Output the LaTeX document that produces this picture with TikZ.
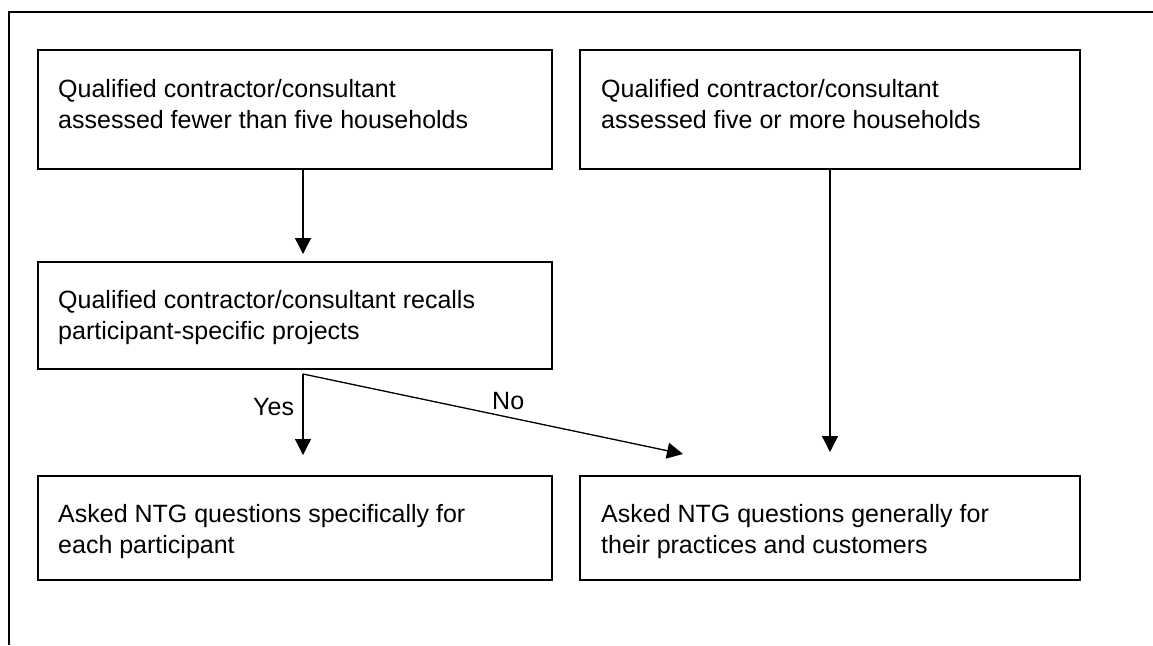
\documentclass[tikz,border=0pt]{standalone}
\usepackage{fontspec}
\setmainfont{Liberation Sans}
\usetikzlibrary{arrows.meta}
\begin{document}
\begin{tikzpicture}[x=1pt,y=-1pt,
  box/.style={draw=black, line width=1.2pt, rectangle, inner sep=0pt, outer sep=0pt},
  txt/.style={anchor=base west, align=left, inner sep=0pt, font=\fontsize{25}{31}\selectfont},
  lbl/.style={anchor=base west, inner sep=0pt, font=\fontsize{25}{31}\selectfont},
  arr/.style={line width=1.3pt, -{Triangle[width=16pt,length=16pt]}}]
\useasboundingbox (0,0) rectangle (1153,645);
\draw[line width=2pt] (9,645) -- (9,12) -- (1153,12);
% boxes
\node[box, minimum width=514pt, minimum height=119pt] (b1) at (295,109.5) {};
\node[box, minimum width=500pt, minimum height=119pt] (b2) at (830,109.5) {};
\node[box, minimum width=514pt, minimum height=107pt] (b3) at (295,315.5) {};
\node[box, minimum width=514pt, minimum height=104pt] (b4) at (295,528) {};
\node[box, minimum width=500pt, minimum height=104pt] (b5) at (830,528) {};
% texts (anchor = baseline of the last line)
\node[txt] (t1) at (58,128) {Qualified contractor/consultant\\assessed fewer than five households};
\node[txt] (t2) at (601,128) {Qualified contractor/consultant\\assessed five or more households};
\node[txt] (t3) at (58,339) {Qualified contractor/consultant recalls\\participant-specific projects};
\node[txt] (t4) at (58,553) {Asked NTG questions specifically for\\each participant};
\node[txt] (t5) at (601,553) {Asked NTG questions generally for\\their practices and customers};
% connectors
\coordinate (split) at (303,374);
\coordinate (noend) at (683,454);
\draw[arr, shorten >=8pt] (b1.south -| split) -- (b3.north -| split);
\draw[arr, shorten >=24pt] (b2.south) -- (b5.north);
\draw[arr, shorten >=21pt] (split) -- (b4.north -| split);
\draw[arr] (split) -- (noend);
\node[lbl] (yes) at (253,415) {Yes};
\node[lbl] (no) at (492,409) {No};
\end{tikzpicture}
\end{document}
